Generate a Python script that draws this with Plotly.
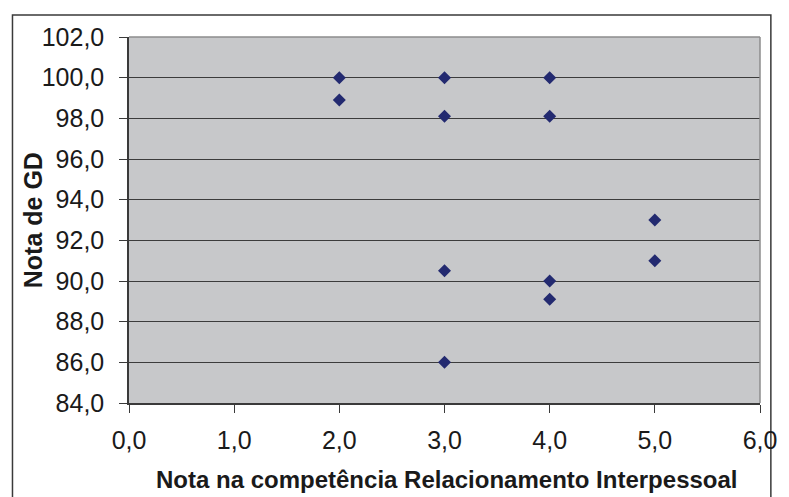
import plotly.graph_objects as go

# Scores: interpersonal relationship competency vs. GD grade
competencia = [2.0, 2.0, 3.0, 3.0, 3.0, 3.0, 4.0, 4.0, 4.0, 4.0, 5.0, 5.0]
nota_gd = [100.0, 98.9, 100.0, 98.1, 90.5, 86.0, 100.0, 98.1, 90.0, 89.1, 93.0, 91.0]

x_ticks = [0, 1, 2, 3, 4, 5, 6]
y_ticks = list(range(84, 103, 2))

x_title = "Nota na competência Relacionamento Interpessoal"
y_title = "Nota de GD"

def fmt(v):
    return f"{v:.1f}".replace(".", ",")

L, R, T, B = 129, 21, 37, 94
W, H = 789, 497
pw, ph = W - L - R, H - T - B

def px_x(p):
    return (p - L) / pw

def px_y(p):
    return (H - B - p) / ph

fig = go.Figure()
fig.add_trace(go.Scatter(
    x=competencia, y=nota_gd, mode="markers",
    marker=dict(symbol="diamond", size=10, color="#232a70",
                line=dict(width=0)),
    showlegend=False, cliponaxis=False,
))

font = dict(family="Liberation Sans, Arial, sans-serif", color="#1a1a1a")

fig.update_layout(
    width=W, height=H,
    margin=dict(l=L, r=R, t=T, b=B),
    paper_bgcolor="white",
    plot_bgcolor="#c7c8ca",
    font=font,
    xaxis=dict(
        range=[0, 6], tickmode="array", tickvals=x_ticks,
        ticktext=[fmt(v) for v in x_ticks],
        showgrid=False, zeroline=False,
        showline=True, linecolor="#3a3a3a", linewidth=1.5,
        ticks="outside", ticklen=8, tickcolor="#3a3a3a", tickwidth=1,
        ticklabelstandoff=6,
        tickfont=dict(size=25, **font),
    ),
    yaxis=dict(
        range=[84, 102], tickmode="array", tickvals=y_ticks,
        ticktext=[fmt(v) for v in y_ticks],
        showgrid=True, gridcolor="#3c3c3c", gridwidth=1,
        zeroline=False,
        showline=True, linecolor="#3a3a3a", linewidth=1.5,
        ticks="outside", ticklen=8, tickcolor="#3a3a3a", tickwidth=1,
        ticklabelstandoff=10,
        tickfont=dict(size=25, **font),
    ),
    annotations=[
        dict(text=f"<b>{x_title}</b>", xref="paper", yref="paper",
             x=px_x(451), y=px_y(480), xanchor="center", yanchor="middle",
             showarrow=False, font=dict(size=24, **font)),
        dict(text=f"<b>{y_title}</b>", xref="paper", yref="paper",
             x=px_x(32), y=px_y(220), xanchor="center", yanchor="middle",
             textangle=-90, showarrow=False, font=dict(size=25, **font)),
    ],
    shapes=[
        # lighter top and right edges of the plot area
        dict(type="line", xref="paper", yref="paper", x0=0, x1=1, y0=1, y1=1,
             line=dict(color="#8c8c8c", width=1.5)),
        dict(type="line", xref="paper", yref="paper", x0=1, x1=1, y0=0, y1=1,
             line=dict(color="#8c8c8c", width=1.5)),
        # outer chart frame
        dict(type="rect", xref="paper", yref="paper",
             x0=px_x(11), x1=px_x(779), y0=px_y(505), y1=px_y(15),
             line=dict(color="#3a3a3a", width=1.5), layer="below"),
    ],
)

fig.write_html("out.html")
